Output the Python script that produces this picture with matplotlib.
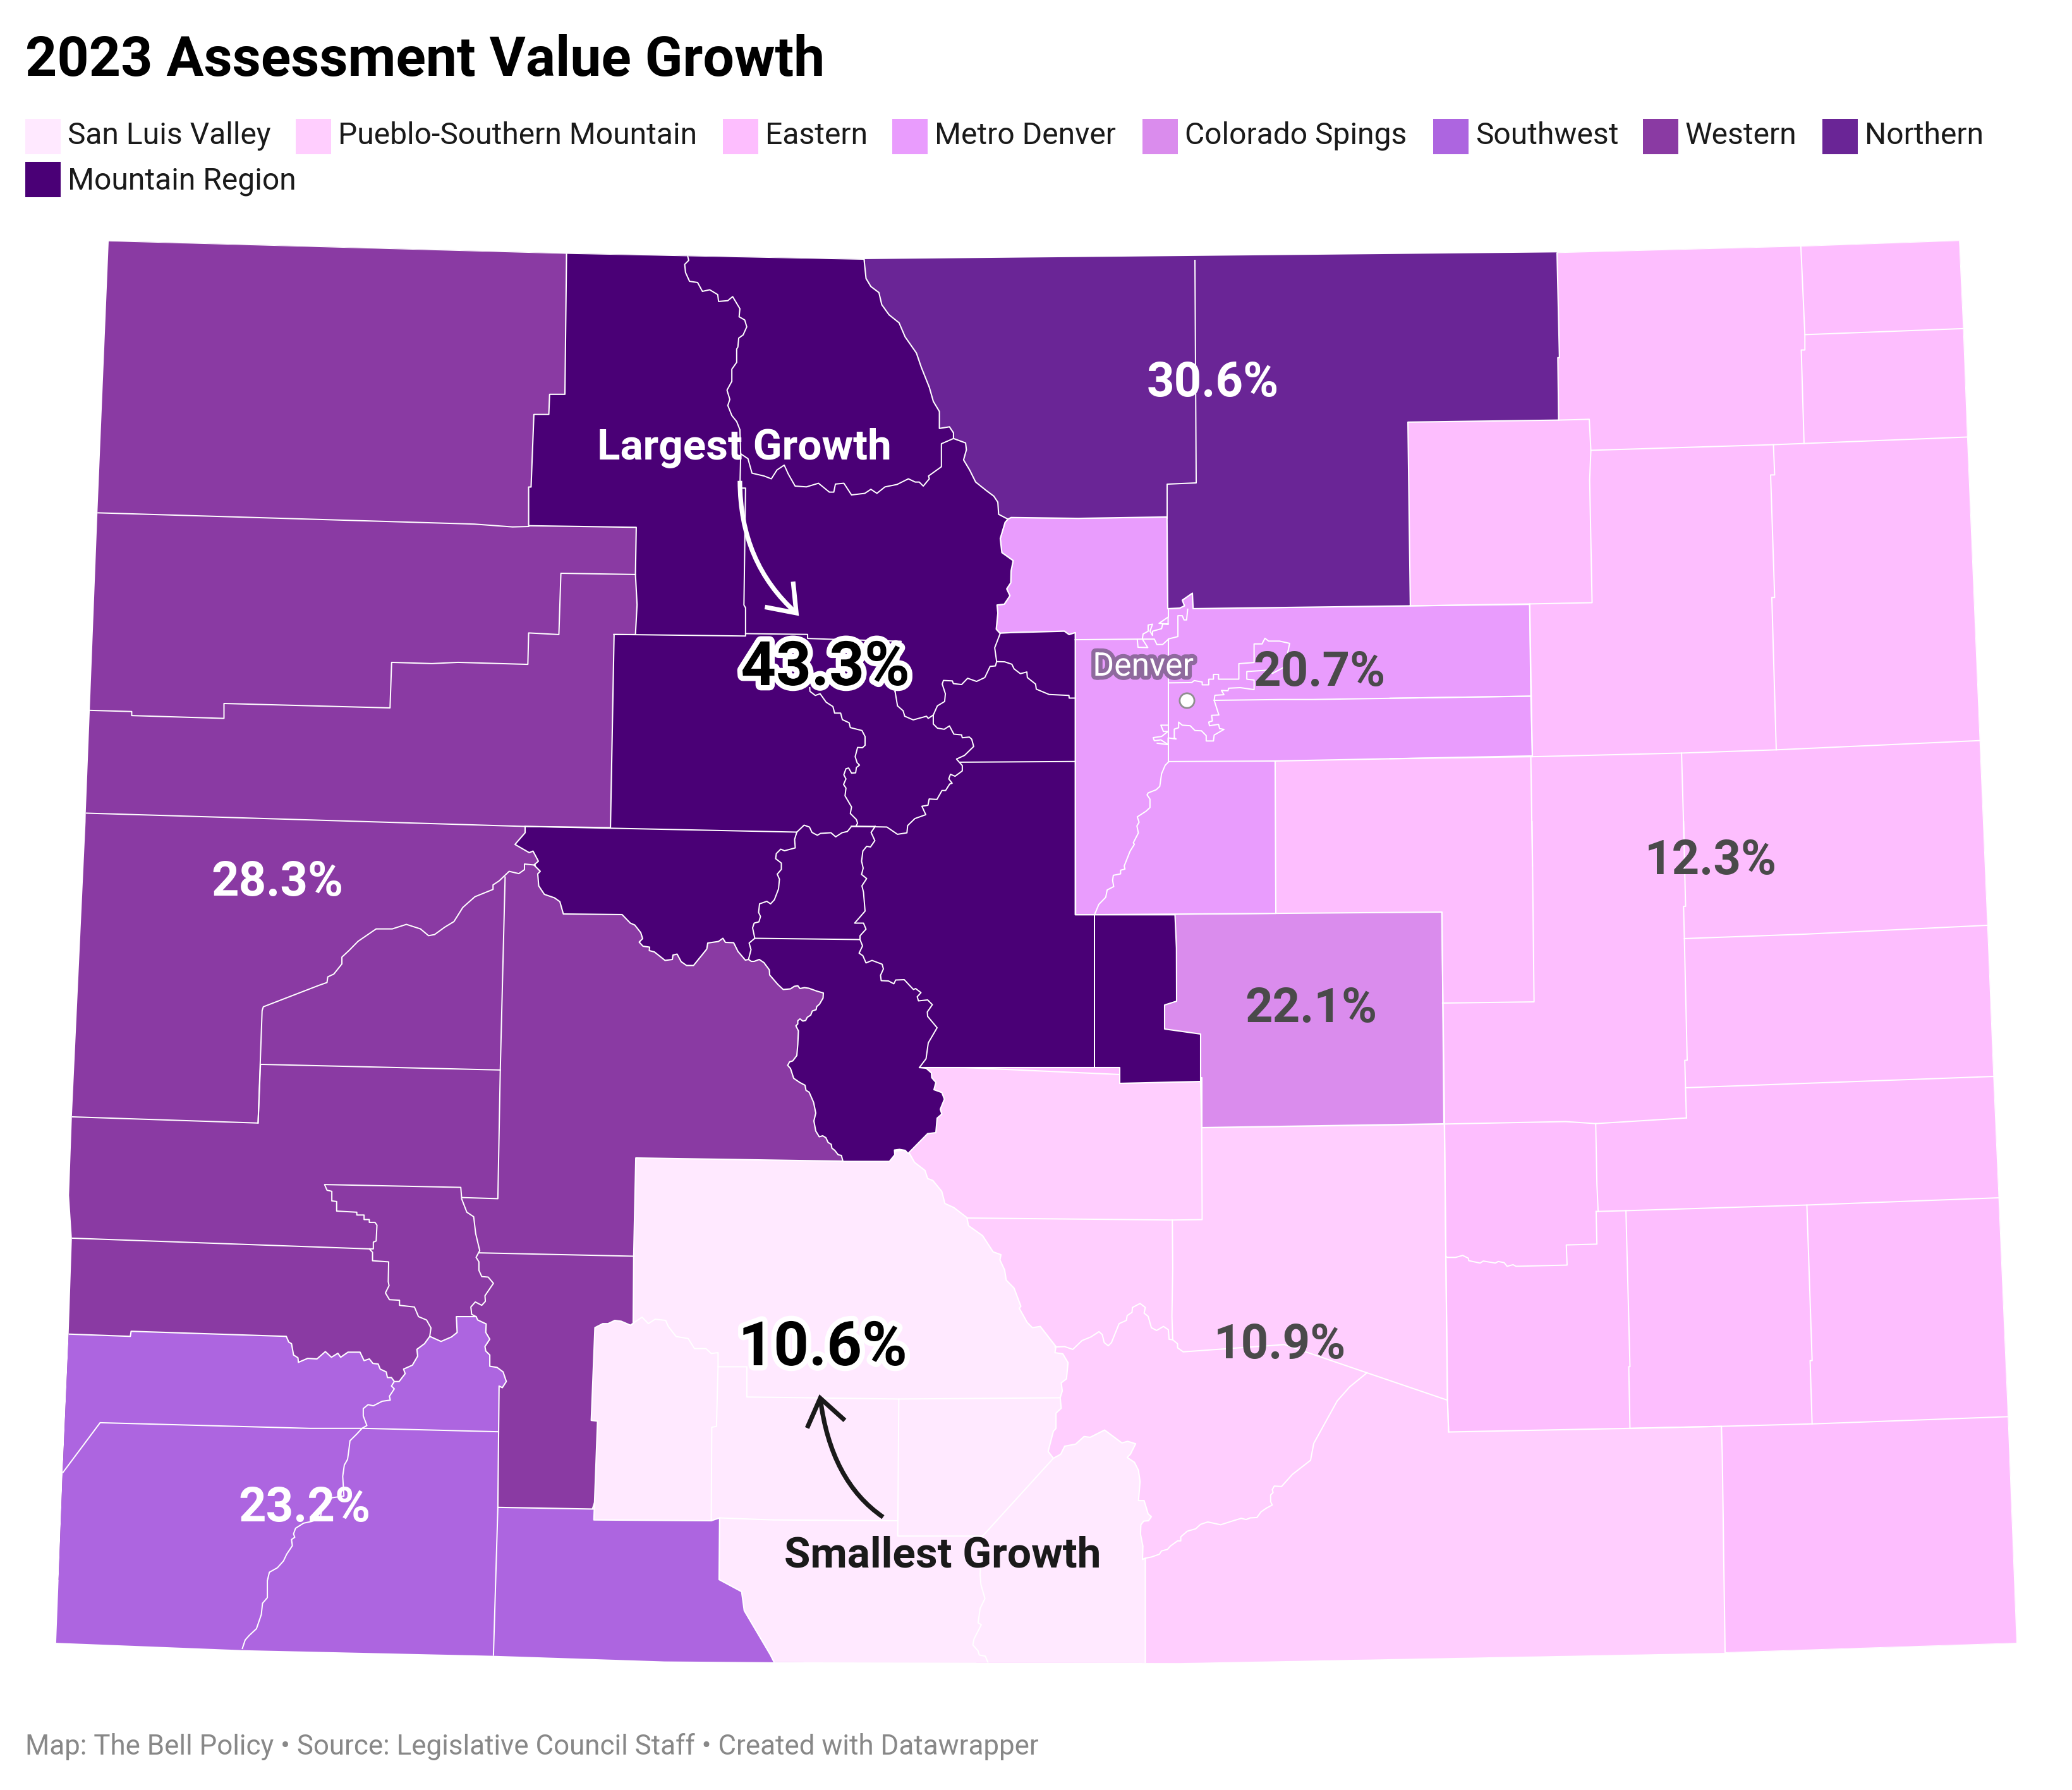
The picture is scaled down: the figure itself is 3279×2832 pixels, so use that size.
import matplotlib
matplotlib.use("Agg")
import matplotlib.pyplot as plt
from matplotlib.patches import Polygon, Rectangle, PathPatch
from matplotlib.path import Path
import matplotlib.patheffects as pe

# ---------- content ----------
TITLE = "2023 Assessment Value Growth"
FOOTER = "Map: The Bell Policy • Source: Legislative Council Staff • Created with Datawrapper"
REGION_NAMES = ["San Luis Valley", "Pueblo-Southern Mountain", "Eastern", "Metro Denver",
                "Colorado Spings", "Southwest", "Western", "Northern", "Mountain Region"]
REGION_COLORS = ["#ffe9ff", "#ffcefe", "#fdbefe", "#e99cfd", "#da8ced", "#ad65e0",
                 "#8a3aa3", "#6a2596", "#4a0076"]
LEGEND_X = [40, 468, 1144, 1412, 1808, 2268, 2600, 2884, 40]
LEGEND_Y = [188, 188, 188, 188, 188, 188, 188, 188, 256]
LEGEND_BASE = [228, 228, 228, 228, 228, 228, 228, 228, 300]
VALUE_TEXT = ["10.6%", "10.9%", "12.3%", "20.7%", "22.1%", "23.2%", "28.3%", "30.6%", "43.3%"]
VALUE_X = [1302, 2026, 2707, 2088, 2075, 482, 439, 1919, 1306]
VALUE_Y = [2124, 2121, 1354, 1057, 1588, 2378, 1389, 598, 1048]
VALUE_COLOR = ["#000000", "#4a4a4a", "#4a4a4a", "#4a4a4a", "#4a4a4a", "#ffffff", "#ffffff", "#ffffff", "#000000"]
VALUE_SIZE = [35, 27.4, 27.4, 27.4, 27.4, 27.4, 27.4, 27.4, 35]

# ---------- outline frames (outlines were read in these reference crops) ----------
Z3 = (750, 380, 1.568, 1.568)
Z4 = (1600, 800, 1.742, 2.24)
Z5 = (50, 1300, 1.568, 1.12)
Z6 = (900, 1700, 1.206, 1.568)
Z7 = (800, 1280, 2.0, 2.0)
Z8 = (2200, 370, 1.568, 1.568)
Z9 = (2200, 1300, 1.568, 1.568)
Z10 = (100, 370, 1.568, 1.568)
Z11 = (1500, 1700, 1.568, 1.568)
Z12 = (1250, 1000, 2.613, 2.613)
PX = (0, 0, 1, 1)


def fr(f, pts):
    return [(f[0] + x / f[2], f[1] + y / f[3]) for x, y in pts]


# ---------- state ----------
STATE = (fr(Z10, [(113, 17), (1249, 48)]) + fr(Z3, [(968, 47)]) + fr(Z8, [(414, 46), (1019, 30), (1413, 16), (1423, 235), (1433, 504), (1464, 1257)])
         + fr(Z9, [(1483, 257), (1498, 632), (1511, 933), (1534, 1476)]) + fr(PX, [(3192, 2600), (2730, 2615)])
         + fr(Z11, [(575, 1460)]) + fr(Z6, [(392, 1458), (183, 1456)]) + fr(Z5, [(1146, 1478), (523, 1468), (61, 1455), (77, 1153), (92, 908), (100, 738), (93, 662), (100, 523), (134, 0)])
         + fr(Z10, [(56, 1437), (66, 1182), (85, 692)]))

# ---------- shared boundaries ----------
LARIMER_EAST = [(968, 47), (973, 95), (985, 115), (1005, 130), (1012, 160), (1030, 185), (1055, 205), (1070, 240), (1098, 280), (1110, 315), (1130, 365), (1140, 400), (1155, 425), (1155, 467), (1180, 463), (1190, 478), (1190, 492), (1220, 503), (1222, 520), (1215, 545), (1230, 570), (1245, 600), (1270, 620), (1290, 635), (1300, 650), (1302, 680), (1325, 692)]
BOULDER_WEST = [(1318, 700), (1306, 740), (1310, 775), (1338, 795), (1333, 820), (1332, 850), (1322, 865), (1330, 882), (1316, 903), (1298, 905), (1300, 925), (1296, 965), (1305, 975)]
WESTERN_EAST = [(62, 55), (62, 75), (30, 112), (75, 138), (87, 133), (104, 165), (90, 177), (110, 197), (102, 205), (105, 243), (123, 270), (155, 281), (172, 293), (183, 332), (369, 334), (395, 361), (409, 367), (428, 391), (434, 410), (423, 421), (435, 434), (456, 437), (455, 448), (471, 452), (505, 479), (528, 476), (530, 462), (543, 459), (556, 483), (573, 495), (595, 495), (637, 443), (640, 424), (674, 419), (688, 409), (696, 422), (722, 423), (736, 451), (759, 478), (769, 476), (778, 482), (787, 482), (803, 476), (818, 486), (835, 509), (836, 525), (862, 555), (879, 571), (902, 569), (914, 561), (925, 559), (932, 568), (946, 565), (960, 567), (985, 576), (1006, 582), (1005, 598), (994, 617), (985, 625), (983, 635), (971, 639), (966, 652), (955, 659), (950, 669), (941, 671), (932, 664), (925, 670), (925, 680), (919, 686), (927, 702), (926, 725), (925, 745), (922, 780), (909, 797), (899, 800), (893, 811), (902, 821), (912, 852), (931, 865), (948, 874), (951, 890), (961, 896), (975, 928), (982, 962), (976, 987), (982, 1019), (993, 1037), (1004, 1034), (1014, 1040), (1021, 1055), (1031, 1061), (1033, 1073), (1042, 1080), (1053, 1094), (1063, 1096), (1068, 1115)]
MOUNTAIN_SE = [(1310, 818), (1331, 820), (1348, 835), (1349, 850), (1362, 865), (1356, 888), (1381, 897), (1389, 918), (1376, 950), (1381, 965), (1366, 978), (1362, 1024), (1336, 1027), (1274, 1090), (1265, 1080), (1247, 1077), (1231, 1079), (1232, 1094), (1215, 1115), (1068, 1115)]
WESTERN_TOP_EAST = [(1358, 1473), (1367, 994), (1420, 994), (1424, 920), (1420, 845), (1422, 728), (1155, 724), (1155, 628), (1161, 628), (1168, 448), (1205, 448), (1207, 398), (1245, 398), (1249, 48)]
METRO_TOP = [(0, 42), (185, 45), (430, 40), (432, 365), (465, 363), (478, 355), (472, 335), (500, 310), (502, 365)]
GILPIN_TOP = [(0, 450), (147, 445), (160, 457), (177, 450)]
SW_TOP = [(60, 908), (92, 908), (245, 912), (247, 903), (632, 912), (638, 922), (645, 925), (650, 945), (661, 950), (662, 958), (685, 951), (708, 952), (729, 939), (744, 949), (760, 942), (767, 949), (785, 940), (815, 940), (825, 955), (838, 952), (847, 960), (860, 961), (865, 970), (880, 975), (883, 985), (893, 985), (900, 992), (912, 992), (927, 978), (923, 970), (945, 963), (958, 947), (956, 935), (975, 925), (988, 912), (1016, 921), (1042, 913), (1056, 905), (1054, 877), (1103, 877), (1107, 883), (1128, 890), (1127, 905), (1137, 917), (1125, 930), (1127, 938), (1137, 945), (1137, 965), (1155, 967), (1170, 975), (1178, 992), (1168, 1003), (1160, 1000), (1157, 1215), (1395, 1218)]
SANLUIS_EAST = [(128, 207), (523, 215), (612, 215), (622, 190), (640, 188), (650, 195), (660, 218), (680, 238), (685, 258), (695, 263), (712, 290), (718, 320), (735, 330), (760, 355), (763, 375), (790, 400), (810, 440), (825, 447), (823, 460), (832, 485), (835, 510), (850, 530), (863, 575), (860, 580), (875, 615), (885, 628), (900, 625), (915, 650), (930, 675), (928, 690), (943, 693), (953, 715), (950, 755), (940, 765), (942, 785), (938, 802), (940, 828), (930, 840), (930, 878), (925, 885), (915, 935), (925, 952)]
COSTILLA_EAST = [(280, 942), (290, 922), (317, 917), (338, 898), (353, 900), (389, 882), (432, 914), (446, 910), (466, 916), (453, 942), (445, 950), (463, 962), (473, 982), (477, 1010), (473, 1057), (487, 1057), (497, 1090), (505, 1097), (498, 1107), (486, 1108), (479, 1117), (478, 1140), (484, 1170), (483, 1203), (490, 1200), (490, 1520)]
SANLUIS_WEST = [(392, 1520), (392, 1458), (385, 1440), (335, 1330), (330, 1283), (287, 1253), (288, 1100), (272, 1107), (48, 1105), (55, 860), (43, 858), (50, 628), (65, 618), (75, 618), (88, 610), (100, 612), (118, 622), (123, 618), (124, 450)]

# ---------- painted areas, back to front ----------
AREAS = [
    ("Eastern", STATE),
    ("Pueblo-Southern Mountain", fr(Z7, [(1250, 818), (1385, 815)]) + fr(Z11, [(427, 0), (427, 22), (627, 17), (630, 132), (1232, 123), (1240, 808)]) + fr(Z9, [(145, 1514), (595, 1505), (822, 1500), (824, 1568)]) + fr(PX, [(2730, 2615), (2730, 2720), (1600, 2720), (1400, 2400)])),
    ("Colorado Spings", fr(PX, [(1780, 1447), (2282, 1443), (2285, 1778), (1902, 1784), (1902, 1705), (1780, 1705)])),
    ("Metro Denver", fr(Z3, [(1325, 692)]) + fr(Z4, METRO_TOP + [(1100, 355), (1430, 350), (1434, 675), (1437, 887), (728, 905), (730, 1445), (178, 1450), (177, 450), (160, 457), (147, 445), (0, 450)]) + fr(Z3, BOULDER_WEST[::-1])),
    ("Northern", fr(Z3, [(968, 47)]) + fr(PX, [(1367, 300), (2464, 300)]) + fr(Z8, [(414, 46), (420, 307), (416, 307), (418, 462), (44, 467), (50, 923)]) + fr(Z4, [(1100, 355)] + METRO_TOP[::-1]) + fr(Z3, [(1325, 692), (1000, 690)])),
    ("Western", fr(Z10, [(113, 17), (1249, 48)]) + fr(PX, [(1300, 1000), (1400, 1500), (1400, 1800), (1000, 2200), (900, 2500), (0, 2500), (0, 300)])),
    ("Southwest", fr(Z5, SW_TOP) + fr(PX, [(1200, 2387), (1300, 2720), (0, 2720), (0, 2111)])),
    ("San Luis Valley", fr(Z6, SANLUIS_EAST) + fr(Z11, COSTILLA_EAST) + fr(Z6, SANLUIS_WEST)),
    ("Mountain Region", fr(Z10, [(1249, 48)]) + fr(Z3, LARIMER_EAST + BOULDER_WEST) + fr(Z4, GILPIN_TOP + [(177, 1450), (452, 1450), (456, 1568)])
     + fr(PX, [(1862, 1584), (1843, 1590), (1843, 1628), (1900, 1636), (1900, 1711), (1772, 1714), (1772, 1689)]) + fr(Z7, MOUNTAIN_SE) + fr(Z7, WESTERN_EAST[::-1][1:]) + fr(Z10, WESTERN_TOP_EAST)),
]

# ---------- county lines ----------
COUNTY_LINES = [
    # north-west
    fr(Z10, [(85, 692), (1020, 720), (1115, 727), (1155, 726)]),
    fr(Z10, [(1420, 845), (1235, 842), (1230, 994), (1155, 990), (1153, 1068), (980, 1063), (915, 1066), (815, 1063), (811, 1176), (399, 1165), (399, 1202), (170, 1195), (170, 1185), (66, 1182)]),
    fr(Z10, [(56, 1437), (1145, 1470)]),
    fr(Z5, [(100, 523), (562, 534), (568, 430), (1163, 440)]),
    fr(Z5, [(562, 534), (572, 335), (575, 328), (713, 290), (733, 285), (735, 275), (750, 270), (770, 252), (770, 240), (788, 228), (810, 212), (855, 190), (895, 190), (930, 182), (965, 190), (985, 202), (1000, 200), (1025, 187), (1048, 177), (1070, 152), (1100, 133), (1145, 120), (1145, 112), (1160, 105), (1185, 88), (1209, 92), (1223, 85), (1223, 75), (1250, 77)]),
    fr(Z5, [(1175, 98), (1163, 440), (1157, 668), (1067, 666), (1065, 648), (727, 643), (733, 653), (745, 655), (745, 672), (757, 673), (757, 690), (807, 692), (807, 697), (825, 697), (825, 705), (838, 705), (838, 710), (852, 710), (857, 715), (855, 743), (848, 745), (848, 757), (838, 757), (100, 738)]),
    fr(Z5, [(838, 757), (846, 763), (846, 778), (886, 780), (885, 815), (887, 822), (878, 835), (888, 847), (913, 848), (913, 857), (950, 860), (960, 877), (980, 883), (991, 897), (988, 912)]),
    fr(Z5, [(1067, 668), (1080, 692), (1097, 700), (1102, 730), (1112, 760), (1103, 772), (1110, 780), (1110, 795), (1117, 806), (1133, 807), (1146, 818), (1125, 840), (1126, 850), (1117, 857), (1101, 851), (1090, 860), (1092, 873), (1103, 877)]),
    fr(Z5, [(1110, 764), (1495, 770)]),
    # south-west
    fr(Z5, [(78, 1153), (170, 1065), (690, 1075), (825, 1075), (1158, 1081)]),
    fr(Z5, [(900, 992), (893, 1000), (900, 1005), (888, 1018), (890, 1025), (870, 1027), (848, 1035), (835, 1033), (823, 1040), (823, 1053), (832, 1070), (820, 1075), (807, 1085), (790, 1097), (787, 1115), (784, 1130), (776, 1140), (772, 1160), (775, 1195), (745, 1198), (720, 1220), (716, 1235), (695, 1240), (675, 1243), (655, 1252), (650, 1262), (653, 1268), (645, 1272), (647, 1283), (633, 1298), (625, 1310), (610, 1322), (590, 1330), (585, 1345), (585, 1375), (573, 1385), (570, 1405), (558, 1430), (540, 1442), (530, 1450), (523, 1465)]),
    fr(Z5, [(1157, 1215), (1146, 1478)]),
    # mountain
    fr(Z3, [(530, 38), (533, 50), (523, 60), (525, 80), (535, 102), (555, 105), (567, 127), (585, 123), (605, 135), (607, 152), (630, 150), (642, 140), (660, 170), (658, 190), (672, 198), (677, 215), (668, 235), (657, 243), (655, 265), (652, 270), (652, 303), (640, 320), (640, 350), (628, 372), (635, 395), (630, 410), (640, 435), (652, 450), (660, 470), (662, 530), (680, 542), (690, 578), (720, 585), (738, 592), (752, 570), (770, 558), (780, 580), (797, 610), (825, 612), (855, 603), (882, 625), (893, 625), (897, 605), (918, 603), (937, 632), (970, 628), (985, 618), (1000, 628), (1020, 612), (1050, 606), (1078, 592), (1095, 600), (1105, 600), (1115, 610), (1130, 592), (1128, 585), (1160, 562), (1160, 505), (1190, 492)]),
    fr(Z3, [(662, 530), (660, 615), (674, 615), (670, 905), (674, 912), (674, 982), (347, 978)]),
    fr(Z3, [(674, 976), (828, 978), (828, 988), (885, 990), (1060, 995), (1045, 1120)]),
    fr(Z12, [(435, 245), (445, 305), (468, 325), (475, 348), (510, 363), (565, 348), (572, 357), (593, 343), (610, 305), (640, 287), (643, 255), (630, 215), (635, 200), (672, 202), (676, 213), (710, 217), (735, 191), (772, 204), (806, 188), (828, 142), (850, 140), (855, 122), (847, 65), (870, 5)]),
    fr(Z12, [(855, 122), (888, 123), (918, 133), (927, 152), (953, 172), (980, 165), (982, 188), (1016, 215), (1019, 236), (1072, 258), (1154, 262), (1155, 273), (1181, 273)]),
    fr(Z12, [(593, 343), (593, 380), (610, 397), (638, 402), (660, 388), (678, 422), (710, 425), (713, 437), (742, 434), (752, 443), (760, 473), (722, 510), (689, 525), (713, 552), (713, 574), (683, 596), (664, 588), (657, 607), (671, 625), (661, 628), (644, 655), (629, 655), (608, 692), (576, 690), (571, 716), (546, 720), (562, 755), (517, 771), (487, 800), (484, 830), (445, 836), (401, 806), (254, 803)]),
    fr(Z7, [(1170, 55), (1095, 55), (1082, 71), (1065, 75), (1045, 88), (1030, 75), (997, 77), (987, 83), (970, 74), (962, 57), (945, 51), (922, 73), (915, 96), (917, 123), (883, 132), (871, 127), (857, 141), (855, 157), (873, 171), (873, 191), (860, 206), (867, 222), (864, 253), (851, 287), (839, 300), (827, 292), (804, 300), (801, 327), (807, 340), (802, 357), (787, 361), (782, 376), (789, 409), (771, 424), (777, 445), (769, 476)]),
    fr(Z7, [(62, 55), (922, 73)]),
    fr(Z12, [(82, 230), (83, 245), (105, 262), (125, 255), (150, 290), (178, 308), (185, 335), (210, 335), (217, 362), (245, 375), (250, 395), (298, 407), (311, 432), (311, 468), (300, 478), (280, 477), (270, 515), (278, 540), (288, 550), (275, 560), (272, 582), (255, 583), (243, 562), (232, 565), (223, 590), (232, 607), (222, 630), (232, 645), (228, 677), (255, 723), (250, 750), (275, 775), (280, 790), (273, 803)]),
    fr(Z12, [(705, 538), (1181, 535)]),
    fr(Z7, [(1170, 55), (1157, 74), (1169, 100), (1155, 120), (1143, 118), (1131, 133), (1127, 165), (1132, 187), (1127, 207), (1143, 220), (1128, 243), (1133, 263), (1138, 323), (1105, 361), (1133, 361), (1141, 380), (1122, 401), (1122, 413), (1130, 433), (1119, 456), (1131, 464), (1141, 487), (1160, 479), (1192, 491), (1196, 506), (1187, 526), (1189, 543), (1212, 544), (1229, 553), (1235, 541), (1262, 540), (1291, 571), (1298, 568), (1315, 581), (1303, 594), (1307, 607), (1336, 604), (1351, 619), (1335, 642), (1336, 656), (1366, 692), (1338, 740), (1331, 790), (1310, 818)]),
    fr(Z7, [(789, 409), (1122, 413)]),
    fr(PX, [(1732, 1447), (1732, 1689)]),
    # metro
    fr(Z4, [(177, 475), (362, 473), (395, 473), (402, 492), (418, 492), (435, 472), (460, 464), (460, 390), (472, 390), (477, 405), (484, 405), (487, 367)]),
    fr(Z4, [(348, 475), (350, 502), (377, 503), (362, 473), (364, 455), (378, 445), (378, 423), (390, 420), (383, 445), (390, 460), (390, 445), (415, 436), (418, 420), (433, 420), (433, 395), (408, 417), (433, 420)]),
    fr(Z4, [(433, 365), (433, 395)]),
    fr(Z4, [(434, 472), (434, 905)]),
    fr(Z4, [(435, 907), (728, 905)]),
    fr(Z4, [(434, 628), (498, 627), (505, 620), (527, 625), (527, 635), (545, 635), (545, 615), (558, 615), (558, 598), (572, 598), (572, 615), (628, 615), (628, 560), (670, 556), (670, 490), (692, 490), (700, 470), (710, 480), (740, 480), (768, 488), (755, 570), (745, 578), (720, 595), (720, 582), (650, 588), (650, 615), (670, 618), (670, 652), (632, 645), (600, 647), (598, 656), (580, 655), (587, 670), (562, 672), (560, 690), (573, 742), (553, 743), (555, 763), (545, 767), (547, 780), (572, 775), (575, 790), (587, 793), (560, 813), (558, 834), (538, 834), (538, 815), (525, 798), (507, 797), (494, 780), (472, 778), (462, 767), (462, 787), (450, 792), (450, 823), (455, 827), (433, 823), (433, 847), (403, 842)]),
    fr(Z4, [(433, 778), (413, 778), (420, 800), (433, 800), (415, 818), (392, 822), (395, 833), (413, 830), (433, 847)]),
    fr(Z4, [(560, 690), (745, 687), (830, 687), (1434, 675)]),
    fr(Z4, [(435, 907), (425, 920), (415, 950), (410, 995), (400, 1007), (378, 1018), (375, 1025), (383, 1040), (383, 1070), (372, 1083), (348, 1103), (353, 1122), (347, 1135), (351, 1160), (337, 1195), (340, 1200), (328, 1225), (312, 1277), (314, 1288), (302, 1292), (302, 1305), (282, 1310), (280, 1328), (283, 1350), (265, 1362), (261, 1388), (242, 1413), (230, 1450)]),
    fr(PX, [(1891, 412), (1893, 764), (1847, 766), (1847, 820)]),
    # eastern
    fr(Z8, [(1019, 30), (1029, 250), (1029, 288), (1020, 288), (1027, 520)]),
    fr(Z8, [(1029, 250), (1422, 235)]),
    fr(Z8, [(498, 537), (951, 523), (1027, 520), (1433, 504)]),
    fr(Z8, [(418, 462), (494, 460), (498, 537), (495, 610), (501, 915), (346, 918), (50, 923)]),
    fr(Z8, [(346, 918), (349, 1147), (353, 1297)]),
    fr(Z8, [(0, 1152), (349, 1147)]),
    fr(Z8, [(0, 1302), (353, 1297), (723, 1288), (958, 1280), (1464, 1257)]),
    fr(Z8, [(951, 523), (954, 598), (944, 598), (954, 902), (947, 902), (958, 1280)]),
    fr(Z8, [(723, 1288), (729, 1500)]),
    fr(Z9, [(728, 0), (733, 210), (728, 210), (730, 290), (737, 592), (731, 592), (735, 735)]),
    fr(Z8, [(349, 1297), (353, 1568)]),
    fr(Z9, [(352, 0), (357, 447), (130, 450)]),
    fr(Z9, [(730, 290), (1030, 279), (1483, 257)]),
    fr(Z9, [(733, 660), (1498, 632)]),
    fr(Z9, [(135, 750), (435, 744), (510, 749), (735, 735)]),
    fr(Z9, [(510, 749), (513, 900), (516, 967)]),
    fr(Z9, [(511, 967), (513, 1048), (437, 1050), (439, 1100), (312, 1103), (305, 1099), (290, 1103), (283, 1094), (268, 1091), (261, 1095), (231, 1090), (223, 1095), (195, 1089), (194, 1083), (180, 1076), (162, 1081), (142, 1081), (138, 1078)]),
    fr(Z9, [(511, 967), (585, 965), (1034, 951), (1511, 933)]),
    fr(Z9, [(585, 965), (595, 1352), (592, 1352), (595, 1505)]),
    fr(Z9, [(1034, 951), (1047, 1337), (1042, 1337), (1047, 1494)]),
    fr(Z9, [(595, 1505), (822, 1500), (1047, 1494), (1534, 1476)]),
    fr(Z9, [(128, 225), (135, 750), (138, 1078), (142, 1435), (145, 1514)]),
    # pueblo and san luis
    fr(Z11, [(48, 356), (557, 361), (631, 360), (630, 132)]),
    fr(Z11, [(557, 361), (558, 480), (556, 600), (558, 658)]),
    fr(Z11, [(266, 676), (290, 675), (310, 682), (333, 660), (355, 651), (375, 638), (383, 645), (388, 665), (398, 673), (406, 665), (425, 618), (443, 610), (445, 598), (457, 590), (458, 578), (477, 568), (490, 578), (487, 592), (497, 600), (505, 628), (518, 635), (535, 625), (547, 633), (549, 657), (558, 658), (570, 668), (570, 678), (584, 688), (835, 670), (1040, 740), (1240, 808)]),
    fr(Z11, [(1040, 740), (997, 775), (966, 810), (908, 915), (900, 957), (855, 992), (828, 1022), (810, 1021), (805, 1030), (807, 1037), (801, 1043), (801, 1060), (805, 1068), (790, 1076), (777, 1085), (767, 1099), (750, 1100), (740, 1104), (728, 1101), (705, 1108), (677, 1117), (645, 1110), (627, 1116), (615, 1127), (594, 1133), (578, 1147), (578, 1157), (570, 1157), (552, 1170), (545, 1178), (530, 1182), (525, 1190), (505, 1197), (490, 1200), (483, 1203)]),
    fr(Z6, [(118, 622), (125, 615), (140, 602), (152, 618), (165, 607), (185, 610), (190, 625), (205, 650), (228, 655), (240, 680), (262, 680), (272, 692), (285, 690), (285, 725), (340, 725), (340, 800), (630, 805), (938, 802)]),
    fr(Z6, [(630, 805), (628, 1145), (790, 1145), (925, 952)]),
    fr(Z6, [(288, 1100), (390, 1105), (628, 1107)]),
    fr(Z6, [(272, 1107), (273, 875), (282, 873), (285, 725)]),
    fr(Z11, [(85, 1145), (80, 1240), (82, 1265), (92, 1300), (80, 1325), (75, 1360), (83, 1365), (65, 1400), (62, 1415), (75, 1430), (78, 1440), (93, 1443), (100, 1460)]),
]

# ---------- drawing ----------
plt.rcParams["font.family"] = ["Roboto", "DejaVu Sans"]
DPI = 200
fig = plt.figure(figsize=(3280 / DPI, 2832 / DPI), dpi=DPI, facecolor="white")
ax = fig.add_axes([0, 0, 1, 1])
ax.set_xlim(0, 3280)
ax.set_ylim(2832, 0)
ax.axis("off")

color_of = dict(zip(REGION_NAMES, REGION_COLORS))
state_patch = Polygon(STATE, closed=True, fc="none", ec="none", transform=ax.transData)
ax.add_patch(state_patch)
for name, pts in AREAS:
    p = Polygon(pts, closed=True, fc=color_of[name], ec="white", lw=0.75, joinstyle="round", zorder=2)
    ax.add_patch(p)
    p.set_clip_path(state_patch)
for pts in COUNTY_LINES:
    xs, ys = zip(*pts)
    ln, = ax.plot(xs, ys, color="white", lw=0.72, solid_joinstyle="round", zorder=3)
    ln.set_clip_path(state_patch)

# title and legend
ax.text(40, 120, TITLE, fontsize=31.6, fontweight="bold", color="black", va="baseline", ha="left")
for name, col, x, y, b in zip(REGION_NAMES, REGION_COLORS, LEGEND_X, LEGEND_Y, LEGEND_BASE):
    ax.add_patch(Rectangle((x, y), 56, 56, fc=col, ec="none"))
    ax.text(x + 67, b, name, fontsize=17.3, color="#1a1a1a", va="baseline", ha="left")

# denver
ax.plot([1878.4], [1108], marker="o", ms=8.4, mfc="white", mec="#8f8f8f", mew=1.0, zorder=5)
ax.text(1809, 1055, "Denver", fontsize=18.6, color="white", ha="center", va="center", zorder=6,
        path_effects=[pe.withStroke(linewidth=4.6, foreground="#8f6a9e")])

# values
for t, x, y, c, s in zip(VALUE_TEXT, VALUE_X, VALUE_Y, VALUE_COLOR, VALUE_SIZE):
    txt = ax.text(x, y, t, fontsize=s, fontweight="bold", color=c, ha="center", va="center_baseline", zorder=7)
    if c == "#000000":
        txt.set_path_effects([pe.withStroke(linewidth=6, foreground="white")])

# annotations
ax.text(1178, 727, "Largest Growth", fontsize=24.3, fontweight="bold", color="white", ha="center", va="baseline", zorder=6)
ax.text(1492, 2479, "Smallest Growth", fontsize=24.3, fontweight="bold", color="#1a1a1a", ha="center", va="baseline", zorder=6)


def arrow(frame, start, ctrl, end, head_a, head_b, color):
    a, c, b = fr(frame, [start, ctrl, end])
    ax.add_patch(PathPatch(Path([a, c, b], [Path.MOVETO, Path.CURVE3, Path.CURVE3]), fc="none", ec=color,
                           lw=2.6, capstyle="butt", zorder=6))
    h = fr(frame, [head_a, end, head_b])
    ax.plot(*zip(*h), color=color, lw=2.6, solid_joinstyle="miter", solid_capstyle="butt", zorder=6)


arrow(Z3, (660, 597), (660, 800), (800, 925), (722, 910), (792, 847), "white")
arrow(Z6, (600, 1098), (500, 1009), (480, 803), (455, 877), (527, 858), "#1a1a1a")

# footer
ax.text(40, 2776, FOOTER, fontsize=15.8, color="#888888", ha="left", va="baseline")

fig.savefig("out.png", dpi=DPI, facecolor="white")
